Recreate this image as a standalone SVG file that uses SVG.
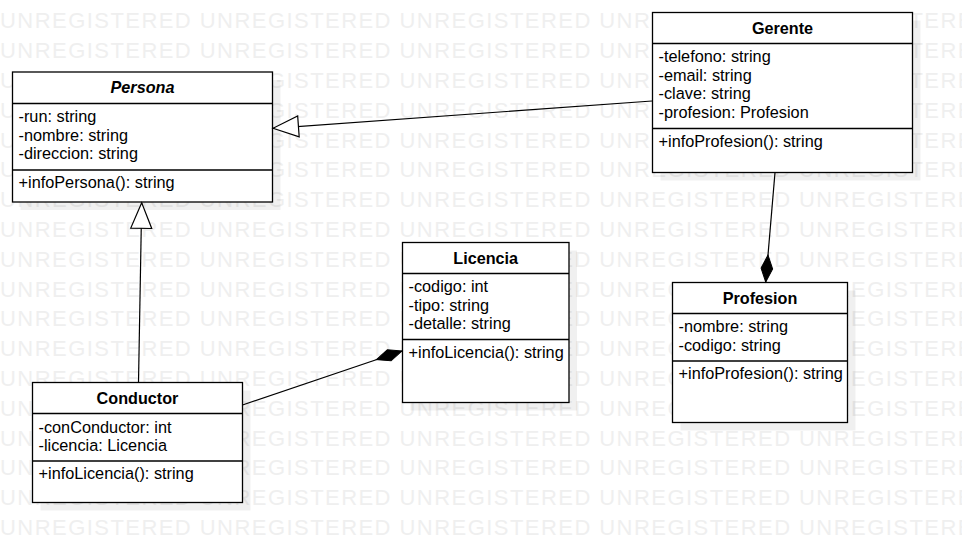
<svg xmlns="http://www.w3.org/2000/svg" xmlns:xlink="http://www.w3.org/1999/xlink" width="962" height="552" viewBox="0 0 962 552">
<style>
.wm{font-family:"Liberation Sans",Arial,sans-serif;font-size:22px;fill:#efefef;letter-spacing:1.45px}
.box{fill:#fff;stroke:#000;stroke-width:1.3}
.shadow{fill:#000;fill-opacity:0.06}
.div{stroke:#000;stroke-width:1.3}
.title{font-family:"Liberation Sans",Arial,sans-serif;font-size:16.2px;font-weight:bold;text-anchor:middle;fill:#000}
.it{font-style:italic}
.t{font-family:"Liberation Sans",Arial,sans-serif;font-size:16.3px;fill:#000}
.conn{fill:none;stroke:#000;stroke-width:1.2}
</style>
<defs>
<text id="wmrow" class="wm" x="0" y="0">UNREGISTERED UNREGISTERED UNREGISTERED UNREGISTERED UNREGISTERED</text>
<marker id="gen" markerUnits="userSpaceOnUse" markerWidth="30" markerHeight="26" viewBox="-28 -13 30 26" refX="0" refY="0" orient="auto">
<path d="M0,0 L-25.5,-10.5 L-25.5,10.5 Z" fill="#fff" stroke="#000" stroke-width="1.2"/>
</marker>
<marker id="comp" markerUnits="userSpaceOnUse" markerWidth="32" markerHeight="16" viewBox="-30 -8 32 16" refX="0" refY="0" orient="auto">
<path d="M0,0 L-13.5,-5.8 L-27,0 L-13.5,5.8 Z" fill="#000" stroke="#000" stroke-width="1"/>
</marker>
</defs>
<rect x="0" y="0" width="962" height="552" fill="#fff"/>
<g id="watermark">
<use xlink:href="#wmrow" y="-1.5"/>
<use xlink:href="#wmrow" y="28.3"/>
<use xlink:href="#wmrow" y="58.1"/>
<use xlink:href="#wmrow" y="87.9"/>
<use xlink:href="#wmrow" y="117.7"/>
<use xlink:href="#wmrow" y="147.5"/>
<use xlink:href="#wmrow" y="177.3"/>
<use xlink:href="#wmrow" y="207.1"/>
<use xlink:href="#wmrow" y="236.9"/>
<use xlink:href="#wmrow" y="266.7"/>
<use xlink:href="#wmrow" y="296.5"/>
<use xlink:href="#wmrow" y="326.3"/>
<use xlink:href="#wmrow" y="356.1"/>
<use xlink:href="#wmrow" y="385.9"/>
<use xlink:href="#wmrow" y="415.7"/>
<use xlink:href="#wmrow" y="445.5"/>
<use xlink:href="#wmrow" y="475.3"/>
<use xlink:href="#wmrow" y="505.1"/>
<use xlink:href="#wmrow" y="534.9"/>
</g>
<g id="persona">
<rect class="shadow" x="20.5" y="80" width="260" height="130"/>
<rect class="box" x="12.5" y="72" width="260" height="130"/>
<line class="div" x1="12.5" y1="103.5" x2="272.5" y2="103.5"/>
<line class="div" x1="12.5" y1="170" x2="272.5" y2="170"/>
<text class="title it" x="142.5" y="93.3">Persona</text>
<text class="t" x="18.5" y="122.3">-run: string</text>
<text class="t" x="18.5" y="140.8">-nombre: string</text>
<text class="t" x="18.5" y="159.3">-direccion: string</text>
<text class="t" x="18.5" y="188.3">+infoPersona(): string</text>
</g>
<g id="gerente">
<rect class="shadow" x="660.5" y="20.5" width="260" height="160"/>
<rect class="box" x="652.5" y="12.5" width="260" height="160"/>
<line class="div" x1="652.5" y1="43.5" x2="912.5" y2="43.5"/>
<line class="div" x1="652.5" y1="128.5" x2="912.5" y2="128.5"/>
<text class="title" x="782.5" y="33.5">Gerente</text>
<text class="t" x="658.5" y="62.3">-telefono: string</text>
<text class="t" x="658.5" y="80.8">-email: string</text>
<text class="t" x="658.5" y="99.3">-clave: string</text>
<text class="t" x="658.5" y="117.8">-profesion: Profesion</text>
<text class="t" x="658.5" y="146.8">+infoProfesion(): string</text>
</g>
<g id="conductor">
<rect class="shadow" x="40.5" y="390.5" width="210" height="120"/>
<rect class="box" x="32.5" y="382.5" width="210" height="120"/>
<line class="div" x1="32.5" y1="413.5" x2="242.5" y2="413.5"/>
<line class="div" x1="32.5" y1="461" x2="242.5" y2="461"/>
<text class="title" x="137.5" y="403.5">Conductor</text>
<text class="t" x="38.5" y="432.5">-conConductor: int</text>
<text class="t" x="38.5" y="451">-licencia: Licencia</text>
<text class="t" x="38.5" y="479">+infoLicencia(): string</text>
</g>
<g id="licencia">
<rect class="shadow" x="410.5" y="250.5" width="166.5" height="160"/>
<rect class="box" x="402.5" y="242.5" width="166.5" height="160"/>
<line class="div" x1="402.5" y1="273.5" x2="569" y2="273.5"/>
<line class="div" x1="402.5" y1="339.5" x2="569" y2="339.5"/>
<text class="title" x="485.7" y="263.5">Licencia</text>
<text class="t" x="408.5" y="292.3">-codigo: int</text>
<text class="t" x="408.5" y="310.8">-tipo: string</text>
<text class="t" x="408.5" y="329.3">-detalle: string</text>
<text class="t" x="408.5" y="358">+infoLicencia(): string</text>
</g>
<g id="profesion">
<rect class="shadow" x="680.5" y="290.5" width="175" height="140"/>
<rect class="box" x="672.5" y="282.5" width="175" height="140"/>
<line class="div" x1="672.5" y1="313.5" x2="847.5" y2="313.5"/>
<line class="div" x1="672.5" y1="361" x2="847.5" y2="361"/>
<text class="title" x="760" y="303.5">Profesion</text>
<text class="t" x="678.5" y="332.3">-nombre: string</text>
<text class="t" x="678.5" y="350.8">-codigo: string</text>
<text class="t" x="678.5" y="379">+infoProfesion(): string</text>
</g>
<g id="connectors">
<path class="conn" d="M652,101 L273,128.3" marker-end="url(#gen)"/>
<path class="conn" d="M138.5,382.5 L141.7,202.8" marker-end="url(#gen)"/>
<path class="conn" d="M775,172.5 L765.7,282" marker-end="url(#comp)"/>
<path class="conn" d="M242.5,405 L402,351" marker-end="url(#comp)"/>
</g>
</svg>
